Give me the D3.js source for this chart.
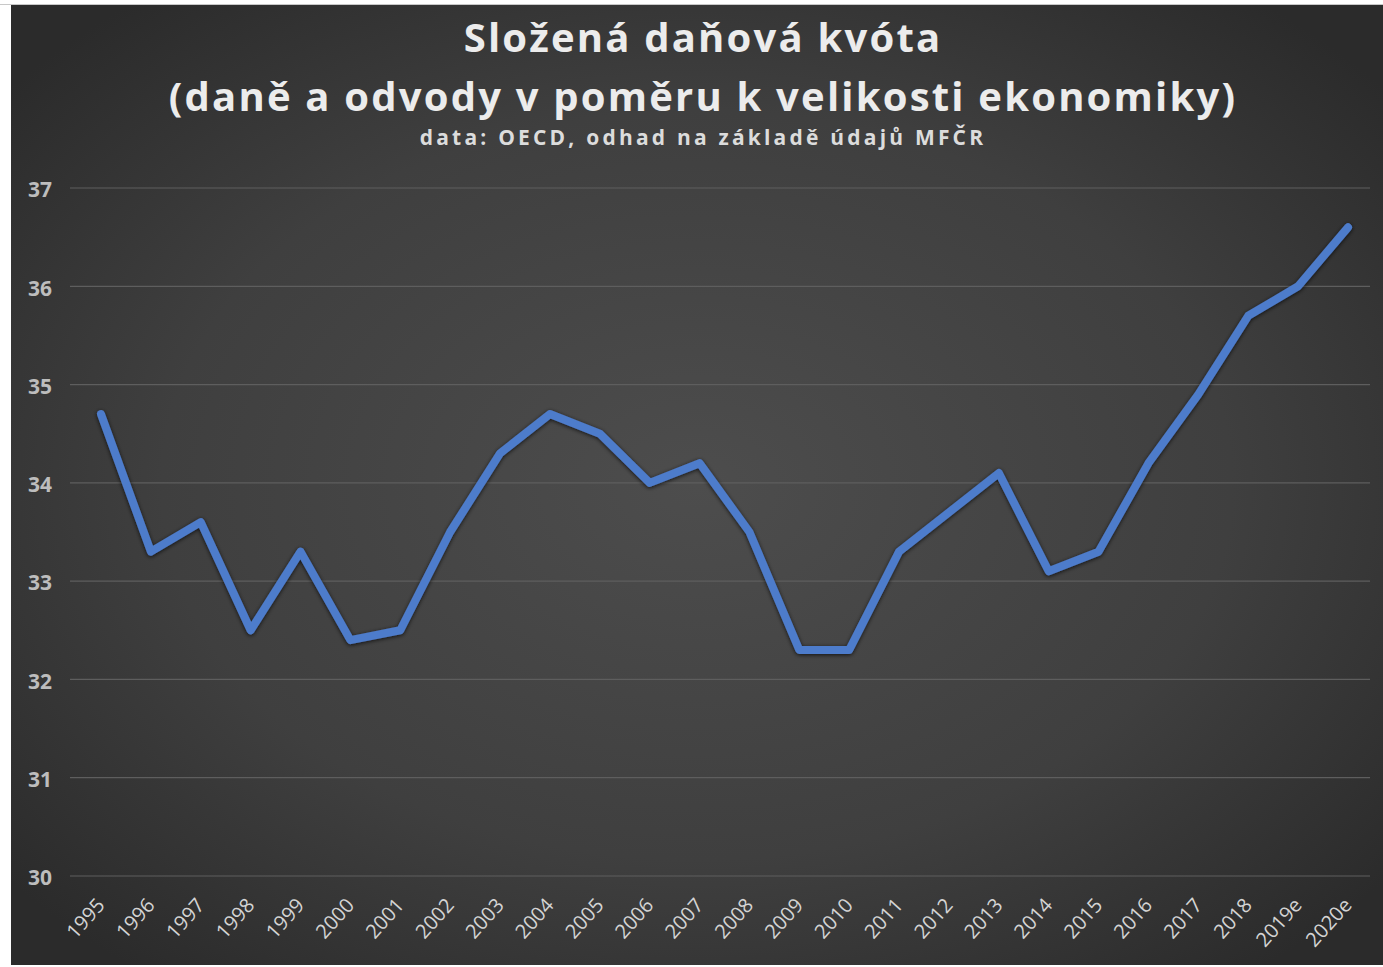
<!DOCTYPE html>
<html>
<head>
<meta charset="utf-8">
<script src="https://cdn.jsdelivr.net/npm/d3@7"></script>
<style>
  html, body { margin: 0; padding: 0; background: #ffffff; }
  svg { display: block; }
</style>
</head>
<body>
<div id="chart-container"></div>
<script>
// data
const years = ["1995", "1996", "1997", "1998", "1999", "2000", "2001", "2002", "2003",
  "2004", "2005", "2006", "2007", "2008", "2009", "2010", "2011", "2012", "2013",
  "2014", "2015", "2016", "2017", "2018", "2019e", "2020e"];
const quota = [34.7, 33.3, 33.6, 32.5, 33.3, 32.4, 32.5, 33.5, 34.3,
  34.7, 34.5, 34.0, 34.2, 33.5, 32.3, 32.3, 33.3, 33.7, 34.1,
  33.1, 33.3, 34.2, 34.9, 35.7, 36.0, 36.6];
const yTicks = [30, 31, 32, 33, 34, 35, 36, 37];
const titleLines = ["Složená daňová kvóta", "(daně a odvody v poměru k velikosti ekonomiky)"];
const subtitle = "data: OECD, odhad na základě údajů MFČR";

const W = 1383, H = 967;
const font = "'Open Sans', 'Noto Sans', sans-serif";

const svg = d3.select("#chart-container")
  .append("svg")
  .attr("width", W)
  .attr("height", H);

// background
const defs = svg.append("defs");
const grad = defs.append("radialGradient")
  .attr("id", "bg")
  .attr("cx", "50%").attr("cy", "50%").attr("r", "65%");
grad.append("stop").attr("offset", "0%").attr("stop-color", "#4d4d4d");
grad.append("stop").attr("offset", "60%").attr("stop-color", "#3f3f3f");
grad.append("stop").attr("offset", "100%").attr("stop-color", "#2b2b2b");

const shadow = defs.append("filter").attr("id", "shadow")
  .attr("x", "-5%").attr("y", "-5%").attr("width", "110%").attr("height", "110%");
shadow.append("feDropShadow")
  .attr("dx", 0).attr("dy", 1).attr("stdDeviation", 2)
  .attr("flood-color", "#000").attr("flood-opacity", 0.75);

svg.append("rect").attr("x", 0).attr("y", 4).attr("width", W).attr("height", 1)
  .attr("fill", "#c8c8c8");
svg.append("rect")
  .attr("x", 11).attr("y", 5)
  .attr("width", W - 11).attr("height", 960)
  .attr("fill", "url(#bg)");

// scales
const x = d3.scalePoint().domain(years).range([101, 1348]);
const y = d3.scaleLinear().domain([30, 37]).range([876, 188]);

// gridlines
svg.append("g")
  .selectAll("line")
  .data(yTicks)
  .enter()
  .append("line")
  .attr("x1", 70).attr("x2", 1370)
  .attr("y1", (d) => y(d)).attr("y2", (d) => y(d))
  .attr("stroke", "#5e5e5e")
  .attr("stroke-width", 1.2);

// y labels
const yAxis = d3.axisLeft(y).tickValues(yTicks).tickFormat(d3.format("d"))
  .tickSize(0).tickPadding(0);
const gy = svg.append("g")
  .attr("transform", "translate(52,2)")
  .call(yAxis);
gy.select(".domain").remove();
gy.selectAll("text")
  .attr("font-family", font)
  .attr("font-weight", "bold")
  .attr("font-size", 21)
  .attr("fill", "#bdbdbd");

// x labels
const xAxis = d3.axisBottom(x).tickSize(0).tickPadding(0);
const gx = svg.append("g")
  .call(xAxis);
gx.select(".domain").remove();
gx.selectAll(".tick")
  .attr("transform", (d) => `translate(${x(d) + 5},906)`);
gx.selectAll("text")
  .attr("font-family", font)
  .attr("font-size", 20)
  .attr("fill", "#d4d4d4")
  .attr("text-anchor", "end")
  .attr("y", 0)
  .attr("dy", 0)
  .attr("transform", "rotate(-48)");

// line
const line = d3.line()
  .x((d, i) => x(years[i]))
  .y((d) => y(d));
svg.append("path")
  .datum(quota)
  .attr("d", line)
  .attr("fill", "none")
  .attr("stroke", "#4e7ccb")
  .attr("stroke-width", 8)
  .attr("stroke-linejoin", "round")
  .attr("stroke-linecap", "round")
  .attr("filter", "url(#shadow)");

// titles
svg.selectAll(".title")
  .data(titleLines)
  .enter()
  .append("text")
  .attr("class", "title")
  .attr("x", 703)
  .attr("y", (d, i) => 52 + i * 59)
  .attr("text-anchor", "middle")
  .attr("font-family", font)
  .attr("font-weight", "bold")
  .attr("font-size", 40)
  .attr("letter-spacing", 2.2)
  .attr("fill", "#ececec")
  .text((d) => d);

svg.append("text")
  .attr("x", 703)
  .attr("y", 145)
  .attr("text-anchor", "middle")
  .attr("font-family", font)
  .attr("font-weight", "bold")
  .attr("font-size", 21)
  .attr("letter-spacing", 3.2)
  .attr("fill", "#dcdcdc")
  .text(subtitle);
</script>
</body>
</html>
